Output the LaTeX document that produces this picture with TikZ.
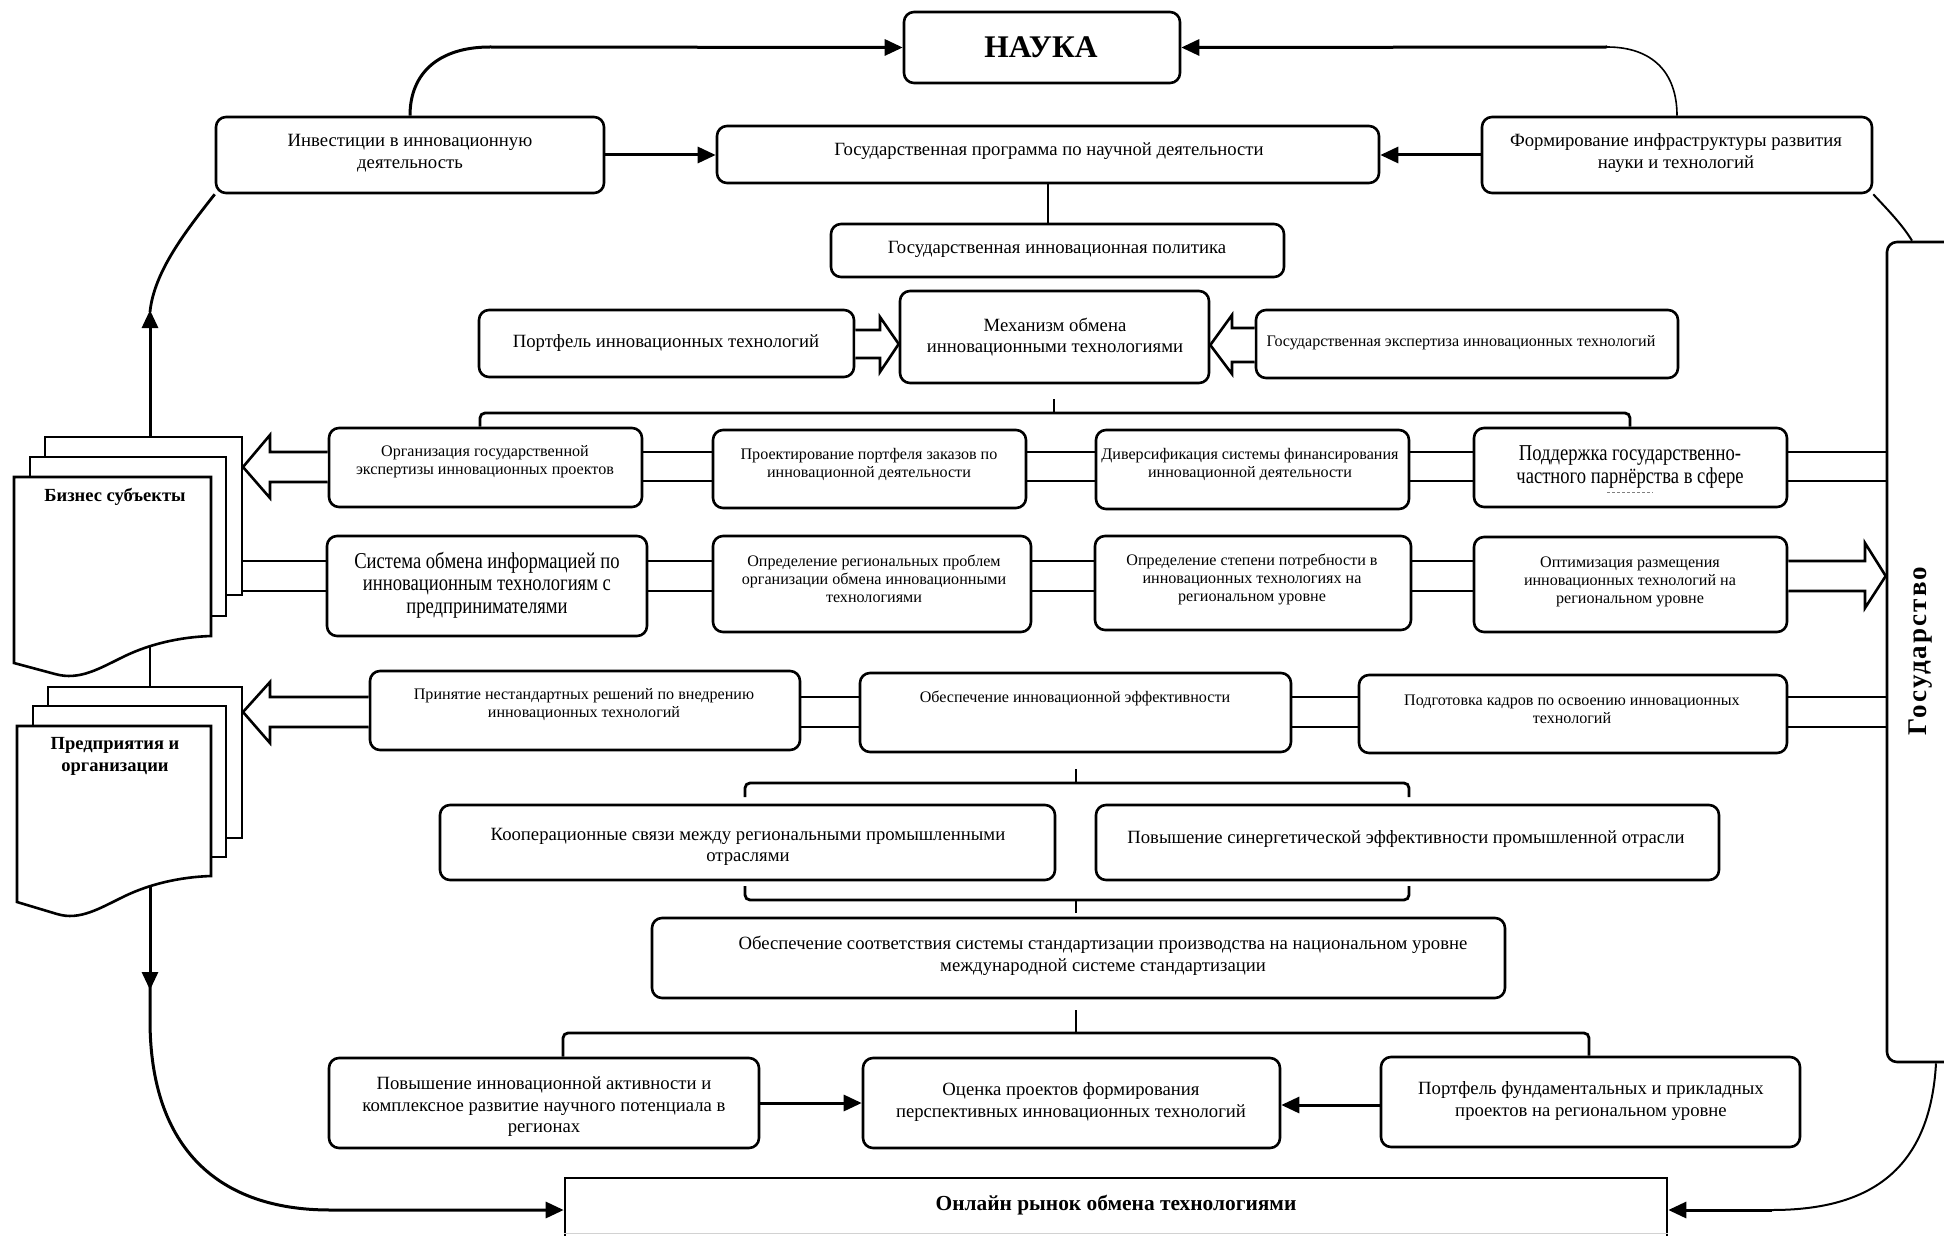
\documentclass[tikz,border=0pt]{standalone}
\usepackage{fontspec}
\setmainfont{Liberation Serif}
\newfontfamily\condfont[FakeStretch=0.82]{Liberation Serif}
\newfontfamily\govfont[LetterSpace=8]{Liberation Serif}
\usetikzlibrary{arrows.meta,fit}
\newcommand\bx[3]{\node[box, fit={#2 #3}] (#1) {};}
\tikzset{
  box/.style={draw, line width=2.6pt, rounded corners=10pt, fill=white, inner sep=0pt},
  conn/.style={line width=2.8pt},
  arr/.style={line width=3pt, -{Triangle[length=18pt,width=16pt]}},
  blk/.style={draw, fill=white, line width=2.6pt, line join=miter},
  page/.style={draw, fill=white, line width=2.6pt, line join=miter},
  tn/.style={align=center, inner sep=0pt, font=\fontsize{18.7}{21.5}\selectfont},
  ts/.style={align=center, inner sep=0pt, font=\fontsize{16.1}{18}\selectfont},
  tc/.style={align=center, inner sep=0pt, font=\condfont\fontsize{22.7}{22.5}\selectfont},
  tb/.style={align=center, inner sep=0pt, font=\bfseries\fontsize{18.5}{22}\selectfont},
}
\begin{document}
\begin{tikzpicture}[x=1pt,y=-1pt]
\useasboundingbox (0,0) rectangle (1944,1236);
\clip (0,0) rectangle (1944,1236);

% ---------- boxes ----------
\bx{nauka}{(904,12)}{(1180,83)}
\bx{inv}{(216,117)}{(604,193)}
\bx{prog}{(717,126)}{(1379,183)}
\bx{form}{(1482,117)}{(1872,193)}
\bx{pol}{(831,224)}{(1284,277)}
\bx{mech}{(900,291)}{(1209,383)}
\bx{port}{(479,310)}{(854,377)}
\bx{exp}{(1256,310)}{(1678,378)}
\bx{org}{(329,428)}{(642,507)}
\bx{proj}{(713,430)}{(1026,508)}
\bx{div}{(1096,430)}{(1409,509)}
\bx{sup}{(1474,428)}{(1787,507)}
\bx{sys}{(327,536)}{(647,636)}
\bx{reg}{(713,536)}{(1031,632)}
\bx{need}{(1095,536)}{(1411,630)}
\bx{opt}{(1474,537)}{(1787,632)}
\bx{acc}{(370,671)}{(800,750)}
\bx{ens}{(860,673)}{(1291,752)}
\bx{trn}{(1359,675)}{(1787,753)}
\bx{coop}{(440,805)}{(1055,880)}
\bx{syn}{(1096,805)}{(1719,880)}
\bx{std}{(652,918)}{(1505,998)}
\bx{act}{(329,1058)}{(759,1148)}
\bx{eval}{(863,1058)}{(1280,1148)}
\bx{pfund}{(1381,1057)}{(1800,1147)}
\bx{gov}{(1887,242)}{(1985,1062)}
\node[draw, fill=white, line width=2.6pt, inner sep=0pt, fit={(565,1178) (1667,1250)}] (onl) {};
\draw[gray!35, line width=1pt] (onl.west |- 0,1233) -- (onl.east |- 0,1233);

% ---------- document stacks ----------
\draw[page] (45,437) rectangle (242,595);
\draw[page] (30,457) rectangle (226,616);
\draw[page] (14,477) -- (211,477) -- (211,636) .. controls (180,637) and (150,644) .. (125,656)
  .. controls (100,668) and (80,681) .. (55,674) -- (14,663) -- cycle;
\draw[page] (48,687) rectangle (242,838);
\draw[page] (33,706) rectangle (226,857);
\draw[page] (17,726) -- (211,726) -- (211,876) .. controls (180,877) and (150,884) .. (125,896)
  .. controls (100,908) and (80,921) .. (57,914) -- (17,902) -- cycle;
\coordinate (bs-top) at (150,437);
\coordinate (bs-bot) at (150,646);
\coordinate (en-top) at (150,687);
\coordinate (en-bot) at (150,886);

% ---------- texts ----------
\node[font=\bfseries\fontsize{31.5}{31.5}\selectfont, inner sep=0pt] (t-nauka) at (1041,47) {НАУКА};
\node[tn] (t-inv) at (410,153) {Инвестиции в инновационную\\деятельность};
\node[tn] (t-prog) at (1049,151) {Государственная программа по научной деятельности};
\node[tn] (t-form) at (1676,153) {Формирование инфраструктуры развития\\науки и технологий};
\node[tn] (t-pol) at (1057,249) {Государственная инновационная политика};
\node[tn] (t-mech) at (1055,337) {Механизм обмена\\инновационными технологиями};
\node[tn] (t-port) at (666,343) {Портфель инновационных технологий};
\node[ts] (t-exp) at (1461,343) {Государственная экспертиза инновационных технологий};
\node[ts] (t-org) at (485,462) {Организация государственной\\экспертизы инновационных проектов};
\node[ts] (t-proj) at (869,464) {Проектирование портфеля заказов по\\инновационной деятельности};
\node[ts] (t-div) at (1250,464) {Диверсификация системы финансирования\\инновационной деятельности};
\node[tc] (t-sup) at (1630,467) {Поддержка государственно-\\частного парнёрства в сфере};
\draw[gray, line width=0.7pt, dash pattern=on 3pt off 2pt] (1607,492) -- (1653,492);
\node[tc] (t-sys) at (487,585) {Система обмена информацией по\\инновационным технологиям с\\предпринимателями};
\node[ts] (t-reg) at (874,579) {Определение региональных проблем\\организации обмена инновационными\\технологиями};
\node[ts] (t-need) at (1252,579) {Определение степени потребности в\\инновационных технологиях на\\региональном уровне};
\node[ts] (t-opt) at (1630,582) {Оптимизация размещения\\инновационных технологий на\\региональном уровне};
\node[ts] (t-acc) at (584,705) {Принятие нестандартных решений по внедрению\\инновационных технологий};
\node[ts] (t-ens) at (1075,698) {Обеспечение инновационной эффективности};
\node[ts] (t-trn) at (1572,709) {Подготовка кадров по освоению инновационных\\технологий};
\node[tn] (t-coop) at (748,847) {Кооперационные связи между региональными промышленными\\отраслями};
\node[tn] (t-syn) at (1406,839) {Повышение синергетической эффективности промышленной отрасли};
\node[tn] (t-std) at (1103,956) {Обеспечение соответствия системы стандартизации производства на национальном уровне\\международной системе стандартизации};
\node[tn] (t-act) at (544,1107) {Повышение инновационной активности и\\комплексное развитие научного потенциала в\\регионах};
\node[tn] (t-eval) at (1071,1102) {Оценка проектов формирования\\перспективных инновационных технологий};
\node[tn] (t-pfund) at (1591,1101) {Портфель фундаментальных и прикладных\\проектов на региональном уровне};
\node[font=\bfseries\fontsize{21.4}{21.4}\selectfont, inner sep=0pt] (t-onl) at (1116,1205) {Онлайн рынок обмена технологиями};
\node[tb] (t-bs) at (115,497) {Бизнес субъекты};
\node[tb] (t-en) at (115,756) {Предприятия и\\организации};
\node[rotate=90, inner sep=0pt, font=\govfont\bfseries\fontsize{27}{27}\selectfont] (t-gov) at (1921,651) {Государство};

% ---------- connectors, top ----------
\draw[arr] (inv.north) .. controls (410,72) and (440,47) .. (490,47) -- (nauka.west);
\draw[line width=1.6pt] (form.north) .. controls (1677,72) and (1652,47) .. (1607,47);
\draw[arr] (1607,47) -- (nauka.east);
\draw[arr] (inv.east) -- (prog.west |- inv.east);
\draw[arr] (form.west) -- (prog.east |- form.west);
\draw[conn] (prog.south) -- (prog.south |- pol.north);
\draw[line width=2pt] (form.south east) .. controls (1885,207) and (1902,224) .. (1912,0 |- gov.north);

% left side
\draw[arr] (bs-top) -- (150,310);
\draw[conn] (150,312) .. controls (154,272) and (185,232) .. (inv.south west);
\draw[conn] (bs-bot) -- (en-top);
\draw[arr] (en-bot) -- (150,990);
\draw[arr] (150,986) -- (150,1020) .. controls (150,1150) and (220,1210) .. (330,1210) -- (onl.west |- 0,1210);
% right bottom
\draw[line width=2pt] (gov.south) .. controls (1930,1170) and (1870,1210) .. (1772,1210);
\draw[arr] (1772,1210) -- (onl.east |- 0,1210);

% block arrows around mechanism
\draw[blk] (port.east |- 0,330) -- (880,330) -- (880,317) -- (mech.west |- 0,344) -- (880,372) -- (880,358) -- (port.east |- 0,358);
\draw[blk] (exp.west |- 0,328) -- (1232,328) -- (1232,315) -- (mech.east |- 0,345) -- (1232,374) -- (1232,362) -- (exp.west |- 0,362);

% bracket under mechanism
\draw[conn, rounded corners=5pt] (480,0 |- org.north) -- (480,413) -- (1630,413) -- (1630,0 |- sup.north);
\draw[conn] (1054,413) -- (1054,399);

% row 1
\foreach \y in {452,481} {
  \draw[conn] (org.east |- 0,\y) -- (proj.west |- 0,\y);
  \draw[conn] (proj.east |- 0,\y) -- (div.west |- 0,\y);
  \draw[conn] (div.east |- 0,\y) -- (sup.west |- 0,\y);
  \draw[conn] (sup.east |- 0,\y) -- (gov.west |- 0,\y);
}
\draw[blk] (org.west |- 0,452) -- (270,452) -- (270,435) -- (243,467) -- (270,498) -- (270,482) -- (org.west |- 0,482);

% row 2
\foreach \y in {561,591} {
  \draw[conn] (242,\y) -- (sys.west |- 0,\y);
  \draw[conn] (sys.east |- 0,\y) -- (reg.west |- 0,\y);
  \draw[conn] (reg.east |- 0,\y) -- (need.west |- 0,\y);
  \draw[conn] (need.east |- 0,\y) -- (opt.west |- 0,\y);
}
\draw[blk] (opt.east |- 0,561) -- (1865,561) -- (1865,543) -- (gov.west |- 0,576) -- (1865,608) -- (1865,591) -- (opt.east |- 0,591);

% row 3
\foreach \y in {697,727} {
  \draw[conn] (acc.east |- 0,\y) -- (ens.west |- 0,\y);
  \draw[conn] (ens.east |- 0,\y) -- (trn.west |- 0,\y);
  \draw[conn] (trn.east |- 0,\y) -- (gov.west |- 0,\y);
}
\draw[blk] (acc.west |- 0,697) -- (270,697) -- (270,682) -- (243,712) -- (270,743) -- (270,727) -- (acc.west |- 0,727);

% brackets lower
\draw[conn, rounded corners=5pt] (745,797) -- (745,783) -- (1409,783) -- (1409,797);
\draw[conn] (1076,783) -- (1076,769);
\draw[conn, rounded corners=5pt] (745,886) -- (745,900) -- (1409,900) -- (1409,886);
\draw[conn] (1076,900) -- (1076,913);
\draw[conn, rounded corners=5pt] (563,0 |- act.north) -- (563,1033) -- (1589,1033) -- (1589,0 |- pfund.north);
\draw[conn] (1076,1033) -- (1076,1010);

% bottom row arrows
\draw[arr] (act.east |- 0,1103) -- (eval.west |- 0,1103);
\draw[arr] (pfund.west |- 0,1105) -- (eval.east |- 0,1105);
\end{tikzpicture}
\end{document}
